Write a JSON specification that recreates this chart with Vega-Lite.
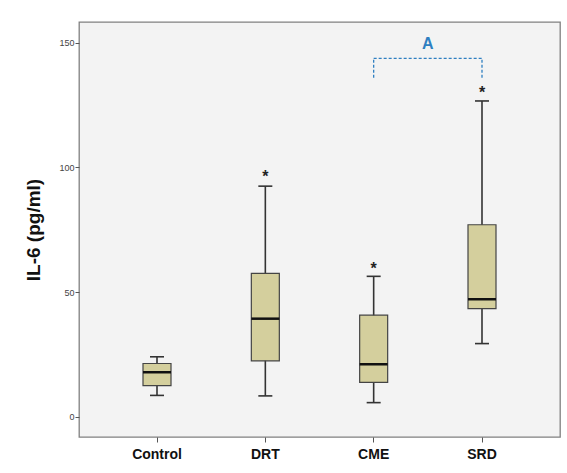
{
  "$schema": "https://vega.github.io/schema/vega-lite/v6.json",
  "autosize": "none",
  "width": 481,
  "height": 415,
  "padding": {"left": 79, "top": 22, "right": 7, "bottom": 36},
  "background": "white",
  "config": {
    "view": {"fill": "#f3f3f3", "stroke": "#808080", "strokeWidth": 1.3},
    "font": "Liberation Sans"
  },
  "datasets": {
    "boxes": [
      {"group": "Control", "lower": 8.5, "q1": 12.4, "median": 17.8, "q3": 21.3, "upper": 24},
      {"group": "DRT", "lower": 8.3, "q1": 22.4, "median": 39.3, "q3": 57.5, "upper": 92.5},
      {"group": "CME", "lower": 5.6, "q1": 13.7, "median": 21, "q3": 40.7, "upper": 56.3},
      {"group": "SRD", "lower": 29.3, "q1": 43.3, "median": 47.1, "q3": 77, "upper": 126.7}
    ],
    "stars": [
      {"group": "DRT", "y": 97.3, "label": "*"},
      {"group": "CME", "y": 60.3, "label": "*"},
      {"group": "SRD", "y": 131, "label": "*"}
    ],
    "legs": [
      {"group": "CME", "y": 136, "y2": 143.8},
      {"group": "SRD", "y": 136, "y2": 143.8}
    ],
    "bracket": [
      {"group": "CME", "group2": "SRD", "y": 143.8, "label": "A", "ty": 149.4}
    ]
  },
  "encoding": {
    "x": {
      "field": "group",
      "type": "nominal",
      "sort": ["Control", "DRT", "CME", "SRD"],
      "scale": {"domain": ["Control", "DRT", "CME", "SRD"], "paddingInner": 0, "paddingOuter": 0.22},
      "axis": {
        "title": null,
        "labelAngle": 0,
        "labelFont": "Liberation Sans",
        "labelFontWeight": "bold",
        "labelFontSize": 14,
        "labelColor": "#111",
        "labelPadding": 5,
        "tickSize": 5,
        "tickColor": "#555",
        "domain": false
      }
    }
  },
  "layer": [
    {
      "data": {"name": "boxes"},
      "mark": {"type": "rule", "color": "#333", "strokeWidth": 1.6},
      "encoding": {
        "y": {
          "field": "lower",
          "type": "quantitative",
          "scale": {"domain": [-8.2, 158.4], "nice": false, "zero": false},
          "axis": {
            "title": "IL-6 (pg/ml)",
            "titleFont": "Liberation Sans",
            "titleFontSize": 19,
            "titleFontWeight": "bold",
            "titleColor": "#111",
            "titlePadding": 15,
            "values": [0, 50, 100, 150],
            "labelFontSize": 9,
            "labelColor": "#444",
            "labelPadding": 1,
            "tickSize": 4,
            "tickColor": "#555",
            "grid": false,
            "domain": false
          }
        },
        "y2": {"field": "upper"}
      }
    },
    {
      "data": {"name": "boxes"},
      "mark": {"type": "bar", "size": 28, "fill": "#d4cf9d", "stroke": "#444", "strokeWidth": 1.2},
      "encoding": {
        "y": {"field": "q1", "type": "quantitative"},
        "y2": {"field": "q3"}
      }
    },
    {
      "data": {"name": "boxes"},
      "mark": {"type": "tick", "size": 28, "thickness": 2.5, "color": "#111", "opacity": 1},
      "encoding": {"y": {"field": "median", "type": "quantitative"}}
    },
    {
      "data": {"name": "boxes"},
      "mark": {"type": "tick", "size": 14, "thickness": 1.6, "color": "#333", "opacity": 1},
      "encoding": {"y": {"field": "upper", "type": "quantitative"}}
    },
    {
      "data": {"name": "boxes"},
      "mark": {"type": "tick", "size": 14, "thickness": 1.6, "color": "#333", "opacity": 1},
      "encoding": {"y": {"field": "lower", "type": "quantitative"}}
    },
    {
      "data": {"name": "stars"},
      "mark": {"type": "text", "fontSize": 16, "fontWeight": "bold", "color": "#222", "baseline": "middle", "dy": 3},
      "encoding": {
        "y": {"field": "y", "type": "quantitative"},
        "text": {"field": "label"}
      }
    },
    {
      "data": {"name": "legs"},
      "mark": {"type": "rule", "color": "#2f7fc1", "strokeWidth": 1.3, "strokeDash": [3, 2]},
      "encoding": {
        "y": {"field": "y", "type": "quantitative"},
        "y2": {"field": "y2"}
      }
    },
    {
      "data": {"name": "bracket"},
      "mark": {"type": "rule", "color": "#2f7fc1", "strokeWidth": 1.3, "strokeDash": [3, 2]},
      "encoding": {
        "x2": {"field": "group2"},
        "y": {"field": "y", "type": "quantitative"}
      }
    },
    {
      "data": {"name": "bracket"},
      "mark": {"type": "text", "fontSize": 16, "fontWeight": "bold", "color": "#2f7fc1", "baseline": "middle"},
      "encoding": {
        "x": {"field": "group", "type": "nominal", "bandPosition": 1},
        "y": {"field": "ty", "type": "quantitative"},
        "text": {"field": "label"}
      }
    }
  ]
}
